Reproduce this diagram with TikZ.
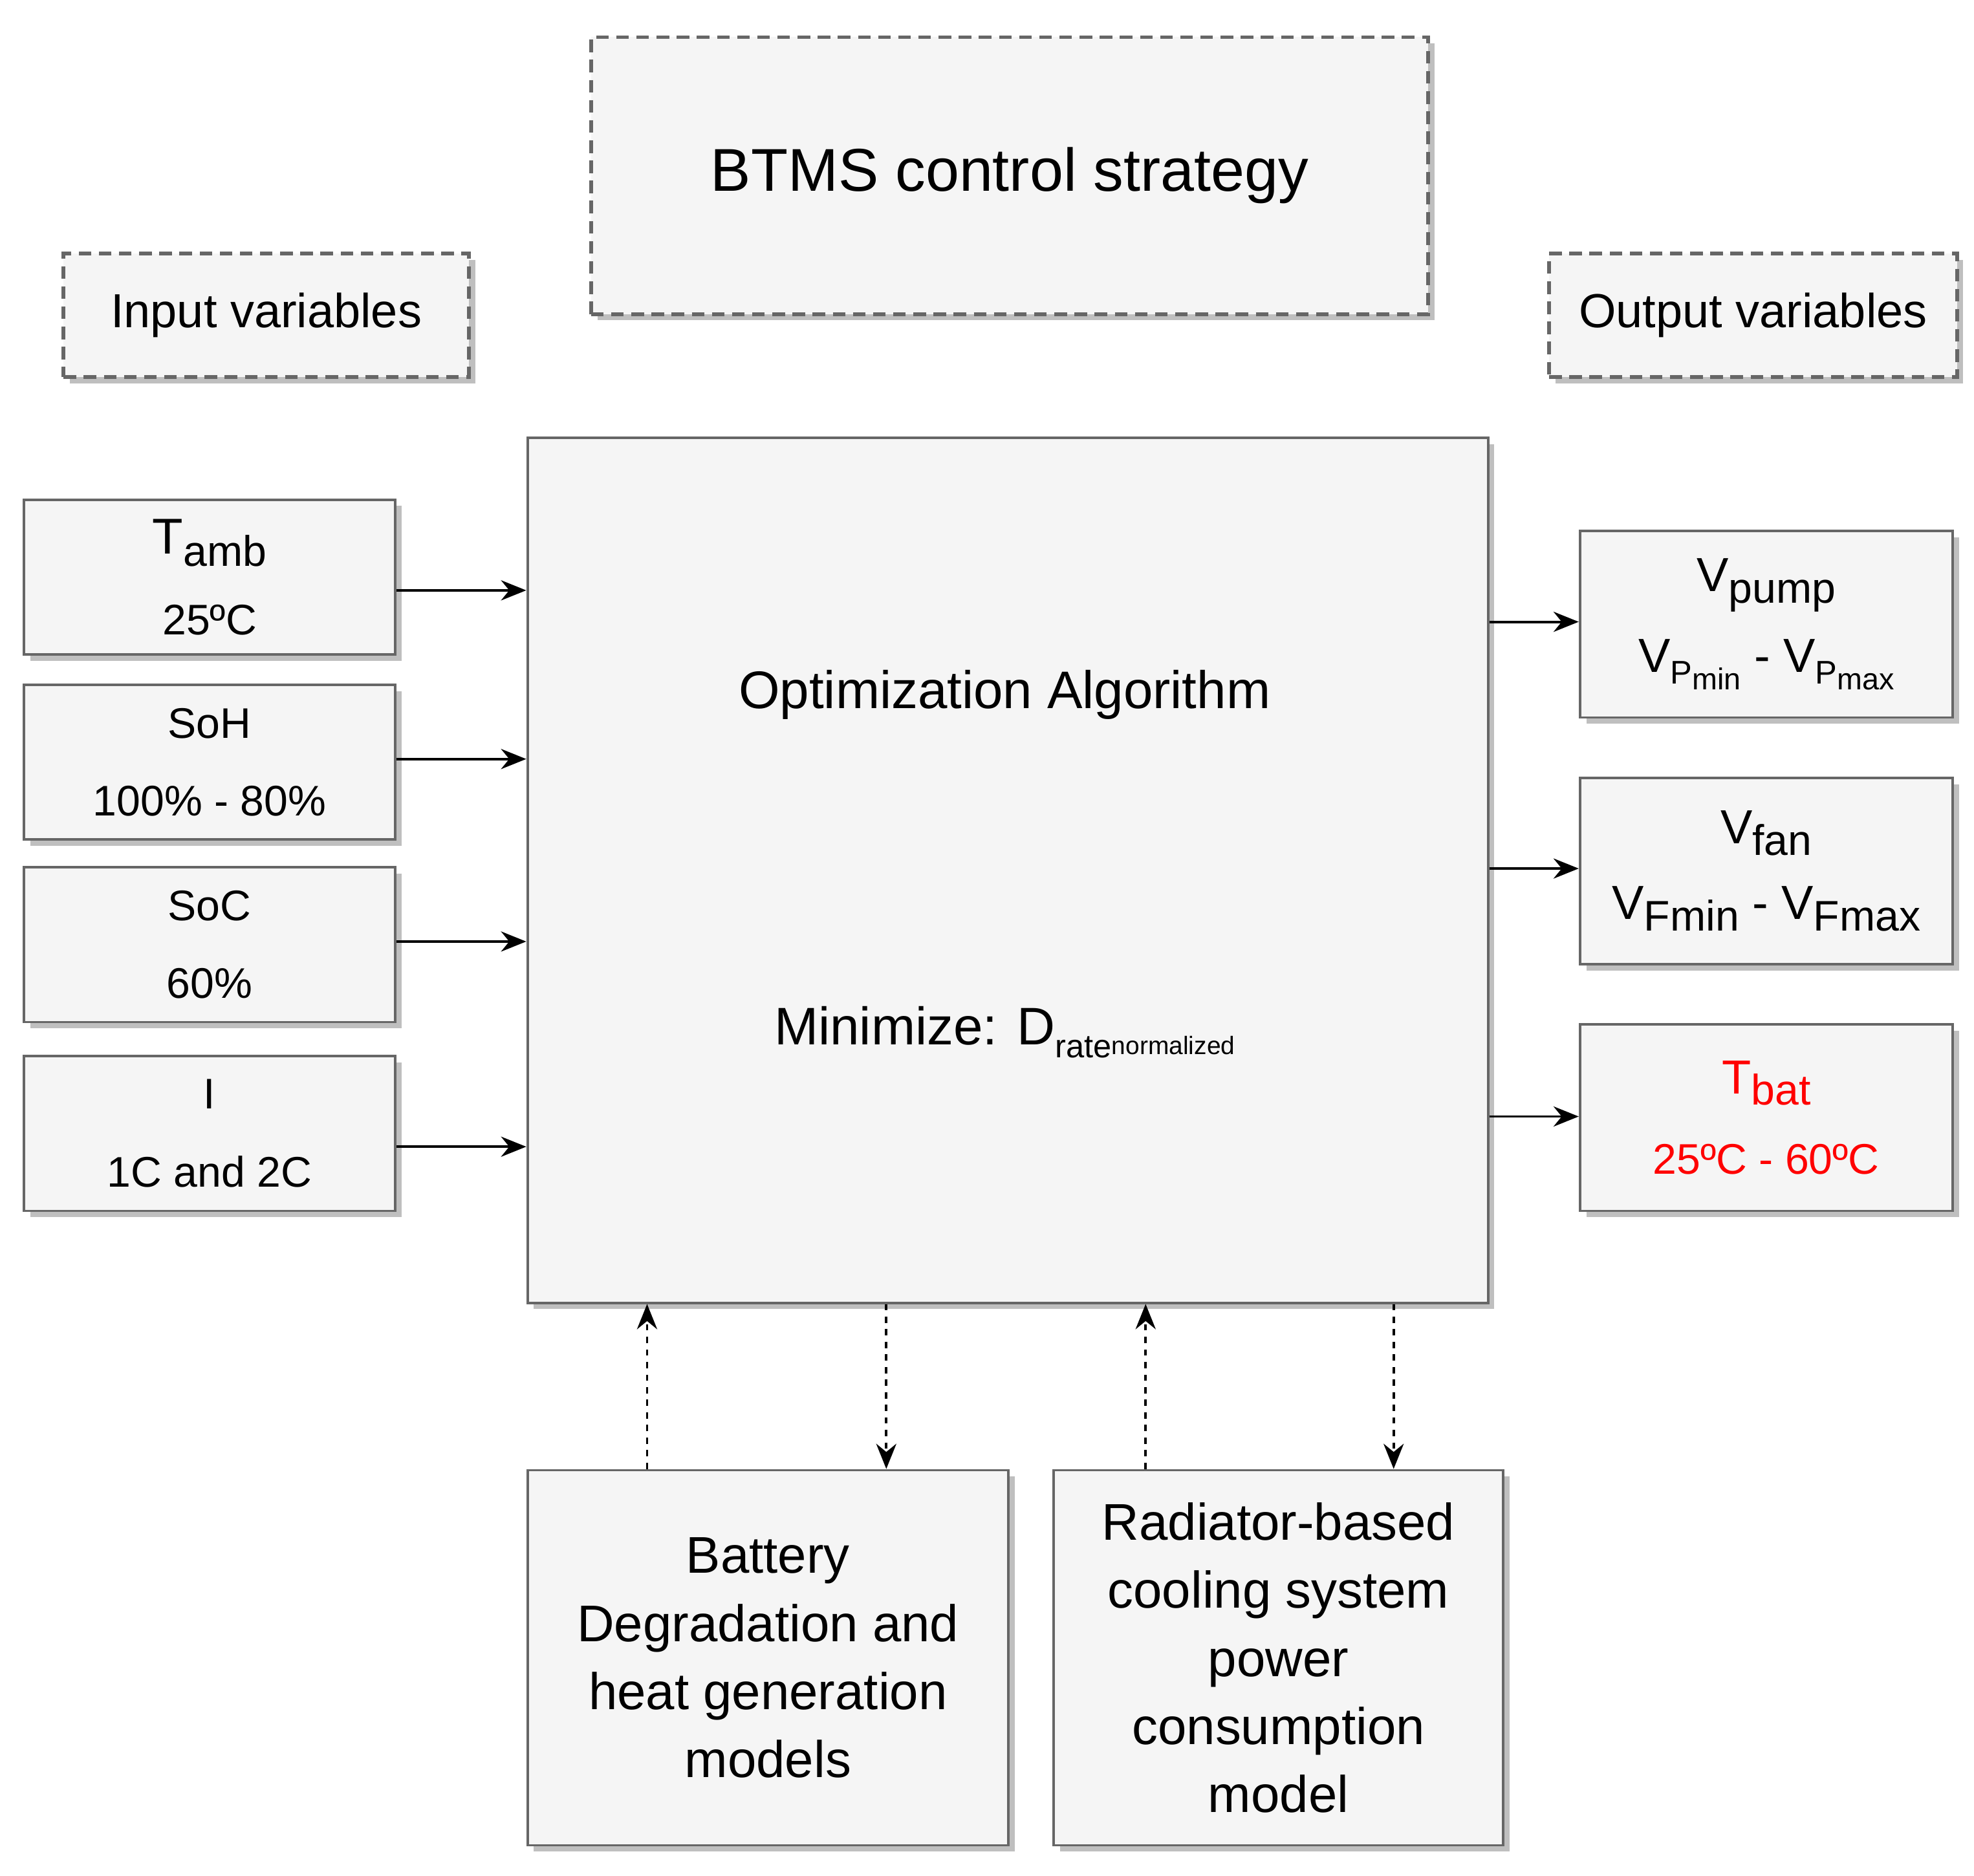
\documentclass[tikz,border=0pt]{standalone}
\usepackage{fontspec}
\setmainfont{Liberation Sans}
\usetikzlibrary{shadows,arrows.meta}
\newcommand{\lowtx}[1]{\raisebox{-0.45ex}{\fontsize{13pt}{14pt}\selectfont #1}}
\newcommand{\lowtxx}[1]{\raisebox{-0.35ex}{\fontsize{10pt}{11pt}\selectfont #1}}
\begin{document}
\begin{tikzpicture}[x=0.5pt,y=-0.5pt,
  box/.style={draw=black!60,line width=1pt,fill=black!4,anchor=north west,inner sep=0pt,align=center,
     drop shadow={shadow xshift=2.5pt,shadow yshift=-2.5pt,fill=black!25,opacity=1},font=\fontsize{17pt}{20pt}\selectfont},
  dbox/.style={box,dash pattern=on 5pt off 3pt,line width=1.5pt},
  arr/.style={-{Stealth[length=10pt,width=8pt]},line width=1pt},
  darr/.style={arr,dash pattern=on 2.5pt off 2.5pt}]
\useasboundingbox (0,0) rectangle (1568,1490);
\node[dbox,minimum width=332.5pt,minimum height=110pt,font=\fontsize{24pt}{28pt}\selectfont] (title) at (468,28) {BTMS control strategy};
\node[dbox,minimum width=161pt,minimum height=49pt,font=\fontsize{19pt}{22pt}\selectfont] (inv) at (49,200) {Input variables};
\node[dbox,minimum width=162pt,minimum height=49pt,font=\fontsize{19pt}{22pt}\selectfont] (outv) at (1229,200) {Output variables};
\node[box,minimum width=381.5pt,minimum height=343.5pt] (main) at (418,347) {};
\node[font=\fontsize{21pt}{24pt}\selectfont] (t1) at (798,552) {Optimization Algorithm};
\node[font=\fontsize{21pt}{24pt}\selectfont] (t2) at (798,820) {Minimize: D\lowtx{rate}\lowtxx{normalized}};
% inputs
\node[box,minimum width=147.5pt,minimum height=61.5pt] (ta) at (18,396) {\fontsize{20pt}{22pt}\selectfont T\lowtx{\fontsize{17pt}{18pt}\selectfont amb}\\[12pt]25ºC};
\node[box,minimum width=147.5pt,minimum height=61.5pt] (soh) at (18,543) {SoH\\[11pt]100\% - 80\%};
\node[box,minimum width=147.5pt,minimum height=61.5pt] (soc) at (18,688) {SoC\\[11pt]60\%};
\node[box,minimum width=147.5pt,minimum height=61.5pt] (cur) at (18,838) {I\\[11pt]1C and 2C};
% outputs
\node[box,minimum width=148pt,minimum height=74pt] (vp) at (1254,421) {\fontsize{19pt}{22pt}\selectfont V\lowtx{\fontsize{17pt}{18pt}\selectfont pump}\\[10pt]\fontsize{19pt}{22pt}\selectfont V\lowtx{P\lowtxx{\fontsize{12pt}{13pt}\selectfont min}} - V\lowtx{P\lowtxx{\fontsize{12pt}{13pt}\selectfont max}}};
\node[box,minimum width=148pt,minimum height=74pt] (vf) at (1254,617) {\fontsize{19pt}{22pt}\selectfont V\lowtx{\fontsize{17pt}{18pt}\selectfont fan}\\[10pt]\fontsize{19pt}{22pt}\selectfont V\lowtx{\fontsize{17pt}{18pt}\selectfont Fmin} - V\lowtx{\fontsize{17pt}{18pt}\selectfont Fmax}};
\node[box,minimum width=148pt,minimum height=74pt,text=red] (tb) at (1254,813) {\fontsize{19pt}{22pt}\selectfont T\lowtx{\fontsize{17pt}{18pt}\selectfont bat}\\[12pt]\fontsize{17pt}{20pt}\selectfont 25ºC - 60ºC};
% bottom
\node[box,minimum width=191pt,minimum height=149pt,font=\fontsize{20.5pt}{27pt}\selectfont] (bat) at (418,1167) {Battery\\Degradation and\\heat generation\\models};
\node[box,minimum width=178.5pt,minimum height=149pt,font=\fontsize{20.5pt}{27pt}\selectfont] (rad) at (836,1167) {Radiator-based\\cooling system\\power\\consumption\\model};
% arrows
\foreach \n/\y in {ta/469,soh/603,soc/748,cur/911}{\draw[arr] (\n.east|-0,\y) -- (main.west|-0,\y);}
\foreach \n/\y in {vp/494,vf/690,tb/887}{\draw[arr] (main.east|-0,\y) -- (\n.west|-0,\y);}
\draw[darr] (bat.north-|514,0) -- (main.south-|514,0);
\draw[darr] (main.south-|704,0) -- (bat.north-|704,0);
\draw[darr] (rad.north-|910,0) -- (main.south-|910,0);
\draw[darr] (main.south-|1107,0) -- (rad.north-|1107,0);
\end{tikzpicture}
\end{document}
